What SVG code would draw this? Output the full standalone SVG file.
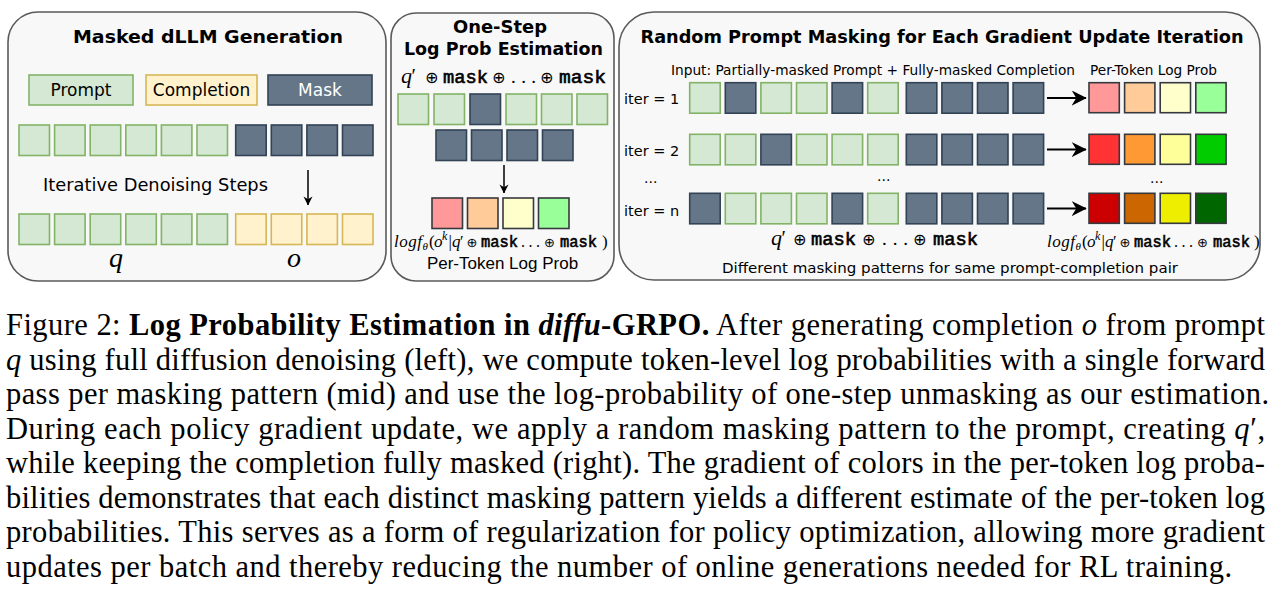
<svg xmlns="http://www.w3.org/2000/svg" width="1280" height="598" viewBox="0 0 1280 598">
<style>
.panel{fill:#f8f8f8;stroke:#5a5a5a;stroke-width:1.6}
.p{fill:#d5e8d4;stroke:#82b366;stroke-width:1.6}
.m{fill:#647687;stroke:#314354;stroke-width:1.6}
.c{fill:#fff2cc;stroke:#d6b656;stroke-width:1.6}
.o{stroke:#36393d;stroke-width:1.6}
.ttl{font-weight:bold;font-size:17px;fill:#000}
.tt{stroke:#000;stroke-width:0.6}
.arr{stroke:#000;stroke-width:1.5;fill:none}
.arrL{stroke:#000;stroke-width:2;fill:none}
</style>
<defs>
<marker id="ahS" viewBox="0 0 10 10" refX="9.5" refY="5" markerWidth="9" markerHeight="10" markerUnits="userSpaceOnUse" orient="auto"><path d="M0,0 L10,5 L0,10 L3,5 z" fill="#000"/></marker>
<marker id="ahL" viewBox="0 0 10 10" refX="9.5" refY="5" markerWidth="15" markerHeight="15" markerUnits="userSpaceOnUse" orient="auto"><path d="M0,0 L10,5 L0,10 L3,5 z" fill="#000"/></marker>
</defs>
<rect x="0" y="0" width="1280" height="598" fill="#fff"/>

<g id="panel-left">
<rect class="panel" x="8" y="12" width="378" height="269" rx="30"/>
<text class="ttl" font-family="'DejaVu Sans', Verdana, sans-serif" x="208" y="43" text-anchor="middle" textLength="270" lengthAdjust="spacingAndGlyphs">Masked dLLM Generation</text>
<g id="legend" font-family="'DejaVu Sans', Verdana, sans-serif" font-size="17">
<rect class="p" x="29" y="75" width="104" height="30"/>
<text x="81" y="96" text-anchor="middle" fill="#000">Prompt</text>
<rect class="c" x="146" y="75" width="111" height="30"/>
<text x="201.5" y="96" text-anchor="middle" fill="#000">Completion</text>
<rect class="m" x="268" y="75" width="104" height="30"/>
<text x="320" y="96" text-anchor="middle" fill="#ffffff">Mask</text>
</g>
<g id="left-row1">
<rect class="p" x="19" y="125" width="30.5" height="30.5"/>
<rect class="p" x="54.6" y="125" width="30.5" height="30.5"/>
<rect class="p" x="90.2" y="125" width="30.5" height="30.5"/>
<rect class="p" x="125.8" y="125" width="30.5" height="30.5"/>
<rect class="p" x="161.4" y="125" width="30.5" height="30.5"/>
<rect class="p" x="197" y="125" width="30.5" height="30.5"/>
<rect class="m" x="235.7" y="125" width="30.5" height="30.5"/>
<rect class="m" x="271.3" y="125" width="30.5" height="30.5"/>
<rect class="m" x="306.9" y="125" width="30.5" height="30.5"/>
<rect class="m" x="342.5" y="125" width="30.5" height="30.5"/>
</g>
<text font-family="'DejaVu Sans', Verdana, sans-serif" fill="#000" x="43" y="191" font-size="17.5" textLength="225" lengthAdjust="spacingAndGlyphs">Iterative Denoising Steps</text>
<g id="left-row2">
<rect class="p" x="19" y="214" width="30.5" height="30.5"/>
<rect class="p" x="54.6" y="214" width="30.5" height="30.5"/>
<rect class="p" x="90.2" y="214" width="30.5" height="30.5"/>
<rect class="p" x="125.8" y="214" width="30.5" height="30.5"/>
<rect class="p" x="161.4" y="214" width="30.5" height="30.5"/>
<rect class="p" x="197" y="214" width="30.5" height="30.5"/>
<rect class="c" x="235.7" y="214" width="30.5" height="30.5"/>
<rect class="c" x="271.3" y="214" width="30.5" height="30.5"/>
<rect class="c" x="306.9" y="214" width="30.5" height="30.5"/>
<rect class="c" x="342.5" y="214" width="30.5" height="30.5"/>
</g>
<text font-family="'Liberation Serif', 'Times New Roman', serif" font-style="italic" x="109" y="267" font-size="28">q</text>
<text font-family="'Liberation Serif', 'Times New Roman', serif" font-style="italic" x="287" y="267" font-size="28">o</text>
</g>

<g id="panel-mid">
<rect class="panel" x="391" y="13" width="223" height="268" rx="25"/>
<text class="ttl" font-family="'DejaVu Sans', Verdana, sans-serif" x="500" y="33" text-anchor="middle" textLength="94" lengthAdjust="spacingAndGlyphs">One-Step</text>
<text class="ttl" font-family="'DejaVu Sans', Verdana, sans-serif" x="503.5" y="55" text-anchor="middle" textLength="199" lengthAdjust="spacingAndGlyphs">Log Prob Estimation</text>
<text y="83" font-size="19" fill="#000" font-family="'Liberation Serif', 'Times New Roman', serif"><tspan font-style="italic" x="401" font-size="22">q</tspan><tspan x="411.5" font-size="20">′</tspan><tspan font-family="'DejaVu Sans', sans-serif" x="425" font-size="16">⊕</tspan><tspan class="tt" font-family="'Liberation Mono', 'Courier New', monospace" x="443" textLength="45" lengthAdjust="spacingAndGlyphs">mask</tspan><tspan font-family="'DejaVu Sans', sans-serif" x="492" font-size="16">⊕</tspan><tspan x="511" textLength="25" lengthAdjust="spacing">. . .</tspan><tspan font-family="'DejaVu Sans', sans-serif" x="540" font-size="16">⊕</tspan><tspan class="tt" font-family="'Liberation Mono', 'Courier New', monospace" x="559" textLength="47" lengthAdjust="spacingAndGlyphs">mask</tspan></text>
<g id="mid-row1">
<rect class="p" x="398" y="94" width="30.5" height="30.5"/>
<rect class="p" x="434" y="94" width="30.5" height="30.5"/>
<rect class="m" x="470" y="94" width="30.5" height="30.5"/>
<rect class="p" x="506" y="94" width="30.5" height="30.5"/>
<rect class="p" x="541.5" y="94" width="30.5" height="30.5"/>
<rect class="p" x="577" y="94" width="30.5" height="30.5"/>
</g>
<g id="mid-row2">
<rect class="m" x="436" y="130" width="30.5" height="30.5"/>
<rect class="m" x="471.5" y="130" width="30.5" height="30.5"/>
<rect class="m" x="507" y="130" width="30.5" height="30.5"/>
<rect class="m" x="542.5" y="130" width="30.5" height="30.5"/>
</g>
<g id="mid-out">
<rect class="o" fill="#ff9999" x="432" y="198" width="30.5" height="30.5"/>
<rect class="o" fill="#ffcc99" x="467.5" y="198" width="30.5" height="30.5"/>
<rect class="o" fill="#ffffcc" x="503" y="198" width="30.5" height="30.5"/>
<rect class="o" fill="#99ff99" x="538.5" y="198" width="30.5" height="30.5"/>
</g>
<text y="247" font-size="16" fill="#000" font-family="'Liberation Serif', 'Times New Roman', serif"><tspan font-style="italic" x="394" font-size="17" textLength="28" lengthAdjust="spacing">logf</tspan><tspan font-style="italic" x="422.5" y="250" font-size="11">θ</tspan><tspan x="429" y="247" font-size="17">(</tspan><tspan font-style="italic" x="434" font-size="17">o</tspan><tspan font-style="italic" x="442" y="240" font-size="12">k</tspan><tspan x="448.5" y="247" font-size="17">|</tspan><tspan font-style="italic" x="452" font-size="17">q</tspan><tspan x="460" font-size="16">′</tspan><tspan font-family="'DejaVu Sans', sans-serif" x="466.5" font-size="13">⊕</tspan><tspan class="tt" font-family="'Liberation Mono', 'Courier New', monospace" x="481" textLength="37" lengthAdjust="spacingAndGlyphs">mask</tspan><tspan x="521" font-size="16" textLength="19" lengthAdjust="spacing">. . .</tspan><tspan font-family="'DejaVu Sans', sans-serif" x="544" font-size="13">⊕</tspan><tspan class="tt" font-family="'Liberation Mono', 'Courier New', monospace" x="560" textLength="37" lengthAdjust="spacingAndGlyphs">mask</tspan><tspan x="602" font-size="17">)</tspan></text>
<text font-family="'Liberation Sans', Arial, sans-serif" fill="#000" x="502.5" y="269" font-size="17" text-anchor="middle">Per-Token Log Prob</text>
</g>

<g id="panel-right">
<rect class="panel" x="619" y="12" width="641" height="268" rx="35"/>
<text class="ttl" font-family="'DejaVu Sans', Verdana, sans-serif" x="942" y="43" text-anchor="middle" textLength="603" lengthAdjust="spacingAndGlyphs">Random Prompt Masking for Each Gradient Update Iteration</text>
<g font-family="'DejaVu Sans', Verdana, sans-serif" fill="#000">
<text x="671" y="75" font-size="13.5" textLength="404" lengthAdjust="spacingAndGlyphs">Input: Partially-masked Prompt + Fully-masked Completion</text>
<text x="1090" y="75" font-size="13.5" textLength="127" lengthAdjust="spacingAndGlyphs">Per-Token Log Prob</text>
<text x="624" y="104" font-size="14.5">iter = 1</text>
<text x="624" y="156" font-size="14.5">iter = 2</text>
<text x="624" y="216" font-size="14.5">iter = n</text>
<text x="644" y="183" font-size="14">...</text>
<text x="877" y="181" font-size="14">...</text>
<text x="1150" y="183" font-size="14">...</text>
</g>
<g id="iter1">
<rect class="p" x="689.7" y="82.7" width="30.5" height="30.5"/>
<rect class="m" x="725.3" y="82.7" width="30.5" height="30.5"/>
<rect class="p" x="760.9" y="82.7" width="30.5" height="30.5"/>
<rect class="p" x="796.5" y="82.7" width="30.5" height="30.5"/>
<rect class="m" x="832.1" y="82.7" width="30.5" height="30.5"/>
<rect class="p" x="867.7" y="82.7" width="30.5" height="30.5"/>
<rect class="m" x="906.3" y="82.7" width="30.5" height="30.5"/>
<rect class="m" x="941.9" y="82.7" width="30.5" height="30.5"/>
<rect class="m" x="977.5" y="82.7" width="30.5" height="30.5"/>
<rect class="m" x="1013.1" y="82.7" width="30.5" height="30.5"/>
<rect class="o" fill="#ff9999" x="1089" y="82.7" width="30.3" height="30"/>
<rect class="o" fill="#ffcc99" x="1124.6" y="82.7" width="30.3" height="30"/>
<rect class="o" fill="#ffffcc" x="1160.2" y="82.7" width="30.3" height="30"/>
<rect class="o" fill="#99ff99" x="1195.8" y="82.7" width="30.3" height="30"/>
</g>
<g id="iter2">
<rect class="p" x="689.7" y="134.3" width="30.5" height="30.5"/>
<rect class="p" x="725.3" y="134.3" width="30.5" height="30.5"/>
<rect class="m" x="760.9" y="134.3" width="30.5" height="30.5"/>
<rect class="p" x="796.5" y="134.3" width="30.5" height="30.5"/>
<rect class="p" x="832.1" y="134.3" width="30.5" height="30.5"/>
<rect class="p" x="867.7" y="134.3" width="30.5" height="30.5"/>
<rect class="m" x="906.3" y="134.3" width="30.5" height="30.5"/>
<rect class="m" x="941.9" y="134.3" width="30.5" height="30.5"/>
<rect class="m" x="977.5" y="134.3" width="30.5" height="30.5"/>
<rect class="m" x="1013.1" y="134.3" width="30.5" height="30.5"/>
<rect class="o" fill="#ff3333" x="1089" y="134.3" width="30.3" height="30"/>
<rect class="o" fill="#ff9933" x="1124.6" y="134.3" width="30.3" height="30"/>
<rect class="o" fill="#ffff99" x="1160.2" y="134.3" width="30.3" height="30"/>
<rect class="o" fill="#00cc00" x="1195.8" y="134.3" width="30.3" height="30"/>
</g>
<g id="itern">
<rect class="m" x="689.7" y="193.3" width="30.5" height="30.5"/>
<rect class="p" x="725.3" y="193.3" width="30.5" height="30.5"/>
<rect class="p" x="760.9" y="193.3" width="30.5" height="30.5"/>
<rect class="p" x="796.5" y="193.3" width="30.5" height="30.5"/>
<rect class="m" x="832.1" y="193.3" width="30.5" height="30.5"/>
<rect class="p" x="867.7" y="193.3" width="30.5" height="30.5"/>
<rect class="m" x="906.3" y="193.3" width="30.5" height="30.5"/>
<rect class="m" x="941.9" y="193.3" width="30.5" height="30.5"/>
<rect class="m" x="977.5" y="193.3" width="30.5" height="30.5"/>
<rect class="m" x="1013.1" y="193.3" width="30.5" height="30.5"/>
<rect class="o" fill="#cc0000" x="1089" y="193.3" width="30.3" height="30"/>
<rect class="o" fill="#cc6600" x="1124.6" y="193.3" width="30.3" height="30"/>
<rect class="o" fill="#eeee00" x="1160.2" y="193.3" width="30.3" height="30"/>
<rect class="o" fill="#006600" x="1195.8" y="193.3" width="30.3" height="30"/>
</g>
<text y="245" font-size="19" fill="#000" font-family="'Liberation Serif', 'Times New Roman', serif"><tspan font-style="italic" x="771" font-size="22">q</tspan><tspan x="781.5" font-size="20">′</tspan><tspan font-family="'DejaVu Sans', sans-serif" x="793" font-size="16">⊕</tspan><tspan class="tt" font-family="'Liberation Mono', 'Courier New', monospace" x="811" textLength="45" lengthAdjust="spacingAndGlyphs">mask</tspan><tspan font-family="'DejaVu Sans', sans-serif" x="862" font-size="16">⊕</tspan><tspan x="882" textLength="26" lengthAdjust="spacing">. . .</tspan><tspan font-family="'DejaVu Sans', sans-serif" x="913" font-size="16">⊕</tspan><tspan class="tt" font-family="'Liberation Mono', 'Courier New', monospace" x="933" textLength="45" lengthAdjust="spacingAndGlyphs">mask</tspan></text>
<text y="247" font-size="16" fill="#000" font-family="'Liberation Serif', 'Times New Roman', serif"><tspan font-style="italic" x="1047" font-size="17" textLength="28" lengthAdjust="spacing">logf</tspan><tspan font-style="italic" x="1075.5" y="250" font-size="11">θ</tspan><tspan x="1082" y="247" font-size="17">(</tspan><tspan font-style="italic" x="1087" font-size="17">o</tspan><tspan font-style="italic" x="1095" y="240" font-size="12">k</tspan><tspan x="1101.5" y="247" font-size="17">|</tspan><tspan font-style="italic" x="1105" font-size="17">q</tspan><tspan x="1113" font-size="16">′</tspan><tspan font-family="'DejaVu Sans', sans-serif" x="1119.5" font-size="13">⊕</tspan><tspan class="tt" font-family="'Liberation Mono', 'Courier New', monospace" x="1134" textLength="37" lengthAdjust="spacingAndGlyphs">mask</tspan><tspan x="1174" font-size="16" textLength="19" lengthAdjust="spacing">. . .</tspan><tspan font-family="'DejaVu Sans', sans-serif" x="1197" font-size="13">⊕</tspan><tspan class="tt" font-family="'Liberation Mono', 'Courier New', monospace" x="1213" textLength="37" lengthAdjust="spacingAndGlyphs">mask</tspan><tspan x="1254" font-size="17">)</tspan></text>
<text font-family="'DejaVu Sans', Verdana, sans-serif" fill="#000" x="722" y="273" font-size="14" textLength="456" lengthAdjust="spacingAndGlyphs">Different masking patterns for same prompt-completion pair</text>
</g>

<g id="connectors">
<line class="arr" x1="308" y1="170" x2="308" y2="205" marker-end="url(#ahS)"/>
<line class="arr" x1="504" y1="165" x2="504" y2="193" marker-end="url(#ahS)"/>
<line class="arrL" x1="1047" y1="98" x2="1086" y2="98" marker-end="url(#ahL)"/>
<line class="arrL" x1="1047" y1="149.5" x2="1086" y2="149.5" marker-end="url(#ahL)"/>
<line class="arrL" x1="1047" y1="208.5" x2="1086" y2="208.5" marker-end="url(#ahL)"/>
</g>

<g id="caption" font-family="'Liberation Serif', 'Times New Roman', Times, serif" font-size="30.5" fill="#000">
<text x="6" y="335" textLength="1259" lengthAdjust="spacing">Figure 2: <tspan font-weight="bold">Log Probability Estimation in </tspan><tspan font-weight="bold" font-style="italic">diffu</tspan><tspan font-weight="bold">-GRPO.</tspan> After generating completion <tspan font-style="italic">o</tspan> from prompt</text>
<text x="6" y="369.5" textLength="1259" lengthAdjust="spacing"><tspan font-style="italic">q</tspan> using full diffusion denoising (left), we compute token-level log probabilities with a single forward</text>
<text x="6" y="404" textLength="1263" lengthAdjust="spacing">pass per masking pattern (mid) and use the log-probability of one-step unmasking as our estimation.</text>
<text x="6" y="438.5" textLength="1259" lengthAdjust="spacing">During each policy gradient update, we apply a random masking pattern to the prompt, creating <tspan font-style="italic">q</tspan>′,</text>
<text x="6" y="473" textLength="1259" lengthAdjust="spacing">while keeping the completion fully masked (right). The gradient of colors in the per-token log proba-</text>
<text x="6" y="507.5" textLength="1259" lengthAdjust="spacing">bilities demonstrates that each distinct masking pattern yields a different estimate of the per-token log</text>
<text x="6" y="542" textLength="1259" lengthAdjust="spacing">probabilities. This serves as a form of regularization for policy optimization, allowing more gradient</text>
<text x="6" y="576.5" textLength="1226" lengthAdjust="spacing">updates per batch and thereby reducing the number of online generations needed for RL training.</text>
</g>
</svg>
